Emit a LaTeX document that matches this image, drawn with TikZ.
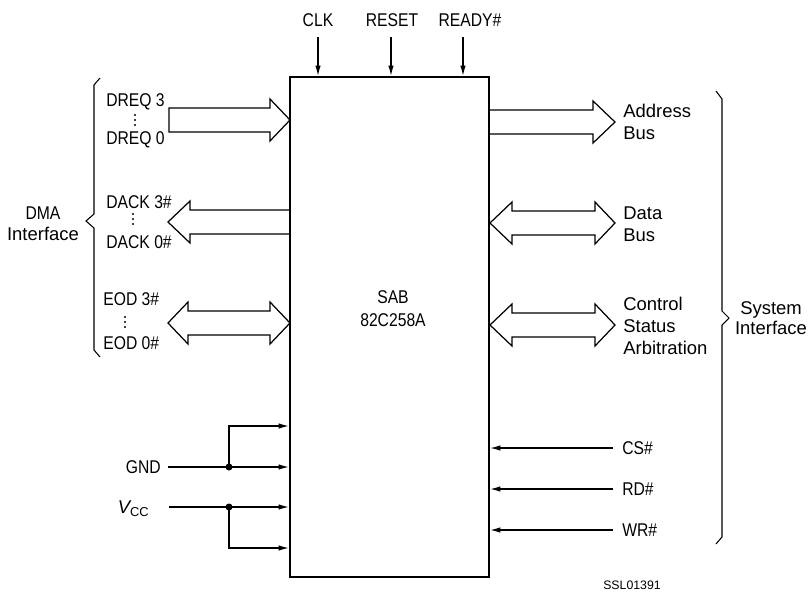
\documentclass[tikz,border=0pt]{standalone}
\usepackage{fontspec}
\setmainfont{Liberation Sans}
\newfontfamily\nrwfont[FakeStretch=0.85]{Liberation Sans}
\usetikzlibrary{arrows.meta}

\begin{document}
\begin{tikzpicture}[
    x=0.02cm, y=-0.02cm,
    font=\fontsize{10.5}{12.5}\selectfont,
    lbl/.style={inner sep=0pt, align=left},
    nrw/.style={font=\fontsize{10.5}{12.5}\selectfont\nrwfont},
    sig/.style={-{Latex[length=2mm, width=1.1mm]}, line width=0.6pt},
    bus/.style={line width=0.7pt, line join=miter},
    brc/.style={line width=0.6pt},
    dot/.style={circle, fill, inner sep=0pt, minimum size=1.4mm}
  ]
    \useasboundingbox (0,0) rectangle (809,592);

    % chip
    \node[draw, line width=1.6pt, minimum width=3.98cm, minimum height=10cm,
      inner sep=0pt] (chip) at (389.5,327) {};
    \node[align=center, font=\fontsize{10.5}{13}\selectfont\nrwfont] (name)
      at (393,309) {SAB\\82C258A};

    % control inputs at the top
    \node[lbl, nrw] (clk) at (318,20) {CLK};
    \node[lbl, nrw] (rst) at (392,20) {RESET};
    \node[lbl, nrw] (rdy) at (470,20) {READY\#};
    \coordinate (clkin) at (318,37);
    \coordinate (rstin) at (391,37);
    \coordinate (rdyin) at (463,37);
    \draw[sig] (clkin) -- (clkin |- chip.north);
    \draw[sig] (rstin) -- (rstin |- chip.north);
    \draw[sig] (rdyin) -- (rdyin |- chip.north);

    % DMA interface
    \node[lbl, nrw, anchor=west] (dreq3) at (106,102) {DREQ 3};
    \node[lbl, nrw, anchor=west] (dreq0) at (106,140) {DREQ 0};
    \node[lbl, nrw, anchor=west] (dack3) at (106,202) {DACK 3\#};
    \node[lbl, nrw, anchor=west] (dack0) at (106,242) {DACK 0\#};
    \node[lbl, nrw, anchor=west] (eod3)  at (103,299) {EOD 3\#};
    \node[lbl, nrw, anchor=west] (eod0)  at (103,343) {EOD 0\#};
    \foreach \x/\y in {135/120, 133/219, 125/322}
      \foreach \d in {-5,0,5}
        \fill (\x,\y+\d) circle (0.6pt);

    \draw[bus] (169,108) -- (270,108) -- (270,99) -- (290,120) -- (270,141)
      -- (270,132) -- (169,132) -- cycle;
    \draw[bus] (290,210) -- (190,210) -- (190,201) -- (168,222) -- (190,243)
      -- (190,234) -- (290,234);
    \draw[bus] (168,323) -- (188,302) -- (188,311) -- (270,311) -- (270,302)
      -- (290,323) -- (270,344) -- (270,335) -- (188,335) -- (188,344) -- cycle;

    \draw[brc] (100,78) -- (94,85) -- (94,214) -- (86,221) -- (94,228)
      -- (94,350) -- (100,357);
    \node[align=center, font=\fontsize{10.5}{12}\selectfont] (dma) at (43,224)
      {{\nrwfont DMA}\\Interface};

    % system interface
    \draw[bus] (490,110) -- (593,110) -- (593,101) -- (615,122) -- (593,143)
      -- (593,134) -- (490,134);
    \draw[bus] (490,223) -- (512,202) -- (512,211) -- (595,211) -- (595,202)
      -- (615,223) -- (595,244) -- (595,235) -- (512,235) -- (512,244) -- cycle;
    \draw[bus] (490,325) -- (512,304) -- (512,313) -- (595,313) -- (595,304)
      -- (615,325) -- (595,346) -- (595,337) -- (512,337) -- (512,346) -- cycle;

    \node[lbl, anchor=west] (addr) at (623,122) {Address\\Bus};
    \node[lbl, anchor=west] (data) at (623,224) {Data\\Bus};
    \node[lbl, anchor=west] (ctrl) at (623,326) {Control\\Status\\Arbitration};

    \node[lbl, nrw, anchor=west] (cs) at (622,448) {CS\#};
    \node[lbl, nrw, anchor=west] (rd) at (622,489) {RD\#};
    \node[lbl, nrw, anchor=west] (wr) at (622,530) {WR\#};
    \draw[sig] ([xshift=-5pt]cs.west) -- (cs.west -| chip.east);
    \draw[sig] ([xshift=-5pt]rd.west) -- (rd.west -| chip.east);
    \draw[sig] ([xshift=-5pt]wr.west) -- (wr.west -| chip.east);

    \draw[brc] (716,91) -- (722,99) -- (722,311) -- (729,318) -- (722,325)
      -- (722,537) -- (716,544);
    \node[align=center, font=\fontsize{10.5}{11.5}\selectfont] (sys) at (771,318)
      {System\\Interface};

    % supply
    \node[lbl, nrw, anchor=east] (gnd) at (161,467) {GND};
    \node[lbl, anchor=east] (vcc) at (150,509) {\itshape V\textsubscript{\upshape CC}};
    \coordinate (gin) at (168,467);
    \coordinate (vin) at (169,507);
    \coordinate (jg) at (229,467);
    \coordinate (jv) at (229,507);
    \draw[sig] (gin) -- (gin -| chip.west);
    \draw[sig] (jg) |- (chip.west |- 0,426);
    \draw[sig] (vin) -- (vin -| chip.west);
    \draw[sig] (jv) |- (chip.west |- 0,548);
    \node[dot] (jgdot) at (jg) {};
    \node[dot] (jvdot) at (jv) {};

    \node[font=\fontsize{7}{8}\selectfont] (code) at (632,585) {SSL01391};
  \end{tikzpicture}
\end{document}
